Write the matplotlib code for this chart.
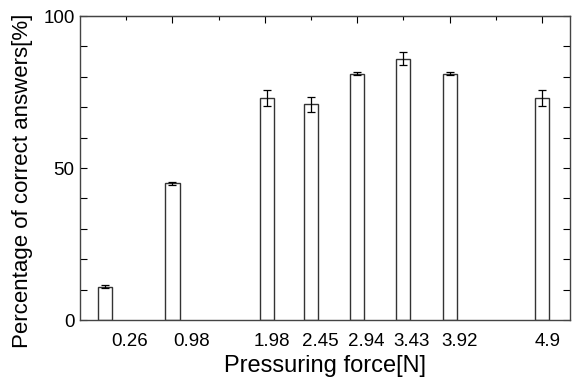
import matplotlib
matplotlib.use("Agg")
import matplotlib.pyplot as plt
import numpy as np

# force levels [N] and mean percentage of correct answers
force = [0.26, 0.98, 1.98, 2.45, 2.94, 3.43, 3.92, 4.9]
correct = [11, 45, 73, 71, 81, 86, 81, 73]
err = [0.5, 0.5, 2.5, 2.5, 0.5, 2.0, 0.5, 2.5]
labels = ["0.26", "0.98", "1.98", "2.45", "2.94", "3.43", "3.92", "4.9"]

# where the tick texts sit under the bars (a bit to the right, as in the original)
label_pos = [0.53, 1.18, 2.04, 2.55, 3.04, 3.52, 4.03, 4.96]

plt.rcParams['font.family'] = ['Liberation Sans', 'DejaVu Sans']

fig = plt.figure(figsize=(5.76, 3.81), dpi=100)
ax = fig.add_axes([0.139, 0.160, 0.851, 0.798])

ax.bar(force, correct, width=0.15, color='white', edgecolor='#333333', linewidth=1.0, zorder=2)
ax.errorbar(force, correct, yerr=err, fmt='none', ecolor='black', elinewidth=0.9,
            capsize=3, capthick=0.9, zorder=3)

ax.set_xlim(0, 5.2)
ax.set_ylim(0, 100)

ax.set_xticks(label_pos)
ax.set_xticklabels(labels)
ax.tick_params(axis='x', length=0, labelsize=13.5, pad=9)

ax.set_yticks([0, 50, 100])
ax.set_yticks(np.arange(0, 101, 10), minor=True)
ax.tick_params(axis='y', which='both', direction='in', length=5, right=True,
               labelsize=13.5, width=0.8, pad=4)

top = ax.secondary_xaxis('top')
top.set_xticks(np.arange(1, 6) * 0.98)
top.set_xticks(np.arange(1, 11) * 0.49, minor=True)
top.tick_params(which='major', direction='in', length=5, labeltop=False, width=0.8)
top.tick_params(which='minor', direction='in', length=3, width=0.8)
top.spines['top'].set_color('#444444')

for s in ax.spines.values():
    s.set_color('#444444')
    s.set_linewidth(1.0)

ax.set_xlabel("Pressuring force[N]", fontsize=17, labelpad=4)
ax.set_ylabel("Percentage of correct answers[%]", fontsize=16)
ax.yaxis.set_label_coords(-0.096, 0.457)

fig.savefig("out.png", dpi=100)
